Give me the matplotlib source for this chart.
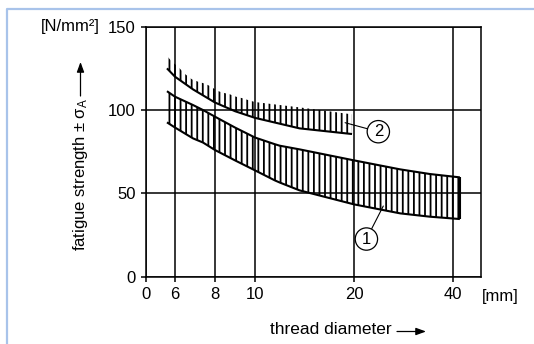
import numpy as np
import matplotlib
matplotlib.use("Agg")
import matplotlib.pyplot as plt
from matplotlib.lines import Line2D

plt.rcParams['font.family'] = ['Liberation Sans', 'DejaVu Sans']
plt.rcParams['mathtext.fontset'] = 'custom'
plt.rcParams['mathtext.rm'] = 'Liberation Sans'
plt.rcParams['mathtext.it'] = 'Liberation Sans'
plt.rcParams['hatch.linewidth'] = 1.3

# ---- data ----
x_ticks = [0, 6, 8, 10, 20, 40]
y_ticks = [0, 50, 100, 150]

# band 1 (upper and lower boundary)
diam_b1 = [4.34, 6, 6.9, 7.4, 8, 9, 10, 12, 12.5, 14.5, 20, 29.3, 35.3, 41.9]
b1_upper = [111.3, 108, 103, 100, 96, 89.5, 83.5, 79.5, 78.6, 76.4, 69.8, 64.4, 61.6, 59.6]
b1_lower = [92.6, 89.5, 83, 80.5, 76, 69.8, 63.8, 57.8, 56.5, 51.8, 43.4, 38, 36, 34.6]

# band 2 lower boundary
diam_b2 = [4.34, 6, 6.9, 8, 9, 10, 14.5, 19.8]
b2_lower = [125, 120, 112.4, 104.5, 99.3, 95.3, 89, 85.6]

# band 2 upper envelope of hatching
diam_b2_top = [4.34, 5.38, 6.15, 6.5, 6.85, 7.15, 7.45, 7.75, 8.1, 8.4, 8.75, 9.05,
               9.4, 9.65, 10, 14.5, 19.8]
b2_upper = [132.4, 129, 126, 121.6, 118.4, 117, 116, 114.4, 111.6, 110.4, 109.4, 108,
            107, 106, 104.8, 101.6, 97.4]

# custom (non-uniform) diameter scale of the diagram
SCALE_X = [0, 6, 8, 10, 20, 40, 48]
SCALE_U = [0, 29, 69, 109, 208, 307.3, 335]


def fwd(x):
    return np.interp(x, SCALE_X, SCALE_U)


def inv(u):
    return np.interp(u, SCALE_U, SCALE_X)


fig = plt.figure(figsize=(5.34, 3.44), dpi=100)
W, H = 534, 344
ax = fig.add_axes([146 / W, 1 - 276.7 / H, (481 - 146) / W, (276.7 - 26.7) / H])
ax.set_xscale('function', functions=(fwd, inv))
ax.set_xlim(0, 48)
ax.set_ylim(0, 150)

ax.set_xticks(x_ticks)
ax.set_xticklabels([str(t) for t in x_ticks])
ax.set_yticks(y_ticks)
ax.set_yticklabels([str(t) for t in y_ticks])
ax.xaxis.set_minor_locator(matplotlib.ticker.NullLocator())
ax.tick_params(axis='both', direction='out', length=3.5, width=1.1,
               labelsize=12, colors='black', pad=4)
for s in ax.spines.values():
    s.set_linewidth(1.1)
ax.grid(True, color='black', lw=1.1)
ax.set_axisbelow(True)

# band 1
ax.fill_between(diam_b1, b1_lower, b1_upper, facecolor='none', edgecolor='black',
                hatch='|||', linewidth=0)
ax.plot(diam_b1, b1_upper, color='black', lw=1.5, solid_capstyle='butt')
ax.plot(diam_b1, b1_lower, color='black', lw=1.5, solid_capstyle='butt')
ax.vlines(diam_b1[-1], b1_lower[-1], b1_upper[-1], color='black', lw=1.5)

# band 2
b2_low_on_top = np.interp(fwd(np.array(diam_b2_top)), fwd(np.array(diam_b2)), b2_lower)
ax.fill_between(diam_b2_top, b2_low_on_top, b2_upper, facecolor='none', edgecolor='black',
                hatch='|||', linewidth=0)
ax.plot(diam_b2, b2_lower, color='black', lw=1.5, solid_capstyle='butt')

circ = dict(boxstyle='circle,pad=0.22', fc='white', ec='black', lw=0.9)
ax.annotate('2', xy=(19.1, 92.4), xytext=(24.9, 87), ha='center', va='center',
            fontsize=12, bbox=circ,
            arrowprops=dict(arrowstyle='-', lw=0.8, color='black', shrinkA=0, shrinkB=0))
ax.annotate('1', xy=(25.9, 42.4), xytext=(22.5, 22.6), ha='center', va='center',
            fontsize=12, bbox=circ,
            arrowprops=dict(arrowstyle='-', lw=0.8, color='black', shrinkA=0, shrinkB=0))

# labels
fig.text(100 / W, 1 - 27 / H, '[N/mm²]', ha='right', va='center', fontsize=12)
fig.text(500 / W, 1 - 296 / H, '[mm]', ha='center', va='center', fontsize=12)
fig.text(270 / W, 1 - 330 / H, 'thread diameter', ha='left', va='center', fontsize=12.5)
fig.add_artist(matplotlib.patches.FancyArrowPatch(
    (397 / W, 1 - 331.5 / H), (426 / W, 1 - 331.5 / H), transform=fig.transFigure,
    arrowstyle='-|>,head_length=6,head_width=2.2', lw=0.9, color='black',
    shrinkA=0, shrinkB=0, mutation_scale=1))
fig.text(80 / W, 1 - 251 / H, r'fatigue strength ± σ$_\mathregular{A}$', ha='center',
         va='bottom', rotation=90, fontsize=12)
fig.add_artist(matplotlib.patches.FancyArrowPatch(
    (80.5 / W, 1 - 96 / H), (80.5 / W, 1 - 62 / H), transform=fig.transFigure,
    arrowstyle='-|>,head_length=6,head_width=2.2', lw=0.9, color='black',
    shrinkA=0, shrinkB=0, mutation_scale=1))

# frame
fig.add_artist(Line2D([6.5 / W, 6.5 / W, 1.0], [0, 1 - 9.2 / H, 1 - 9.2 / H],
                      transform=fig.transFigure, color='#a8c3ea', lw=1.6))

fig.savefig('out.png', dpi=100)
